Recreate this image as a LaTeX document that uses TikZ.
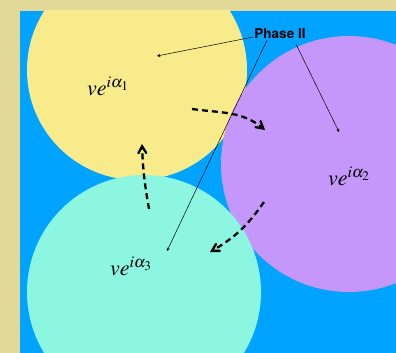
\documentclass[tikz,border=0pt]{standalone}
\usepackage{mathptmx}
\usepackage{fontspec}
\setsansfont{TeX Gyre Heros}
\usetikzlibrary{arrows, positioning}
\definecolor{frametan}{HTML}{E2D898}
\definecolor{seablue}{HTML}{00A3FF}
\definecolor{discyellow}{HTML}{F7EB8B}
\definecolor{discviolet}{HTML}{C597FA}
\definecolor{disccyan}{HTML}{8CF6E1}
\tikzset{
  phase/.style={draw=none, inner sep=0pt, font=\fontsize{22}{26}\selectfont}, % the three phase labels
  pointer/.style={->, >=stealth, line width=0.5pt}, % thin arrows from the title
  flow/.style={->, >=angle 60, line width=2.3pt, dash pattern=on 6pt off 4pt}, % dashed thick arrows
}

\begin{document}
\begin{tikzpicture}[x=1pt, y=-1pt]
    \useasboundingbox (0,0) rectangle (396,353);
    \fill[frametan] (0,0) rectangle (396,353);
    \fill[seablue] (20,11) rectangle (396,353);

    \begin{scope}
      \clip (20,11) rectangle (396,353);
      \fill[discyellow] (137,70) circle (110pt);
      \fill[discviolet] (349,164) circle (128pt);
      \fill[disccyan] (144,292) circle (117pt);
    \end{scope}

    \node[phase] (one) at (108,86) {$ve^{i\alpha_1}$};
    \node[phase] (two) at (349,176) {$ve^{i\alpha_2}$};
    \node[phase] (three) at (131,266) {$ve^{i\alpha_3}$};

    \node[font=\sffamily\bfseries\fontsize{13.5}{15}\selectfont, inner sep=1pt]
      (title) at (280,34) {Phase II};

    \coordinate (tipone) at (157,56);
    \coordinate (tiptwo) at (339,132);
    \coordinate (tipthree) at (167,251);

    \draw[pointer] ([yshift=-3pt]title.west) -- (tipone);
    \draw[pointer] ([xshift=-13pt]title.south) -- (tipthree);
    \draw[pointer] ([xshift=16pt, yshift=-4pt]title.south) -- (tiptwo);

    \coordinate (flowa) at (192,109);
    \coordinate (flowb) at (265,130);
    \coordinate (flowc) at (264,202);
    \coordinate (flowd) at (210,252);
    \coordinate (flowe) at (149,209);
    \coordinate (flowf) at (142,144);

    \draw[flow] (flowa) to[out=-8, in=140] (flowb);
    \draw[flow] (flowc) to[out=-125, in=30] (flowd);
    \draw[flow] (flowe) to[out=100, in=-88] (flowf);
\end{tikzpicture}
\end{document}
